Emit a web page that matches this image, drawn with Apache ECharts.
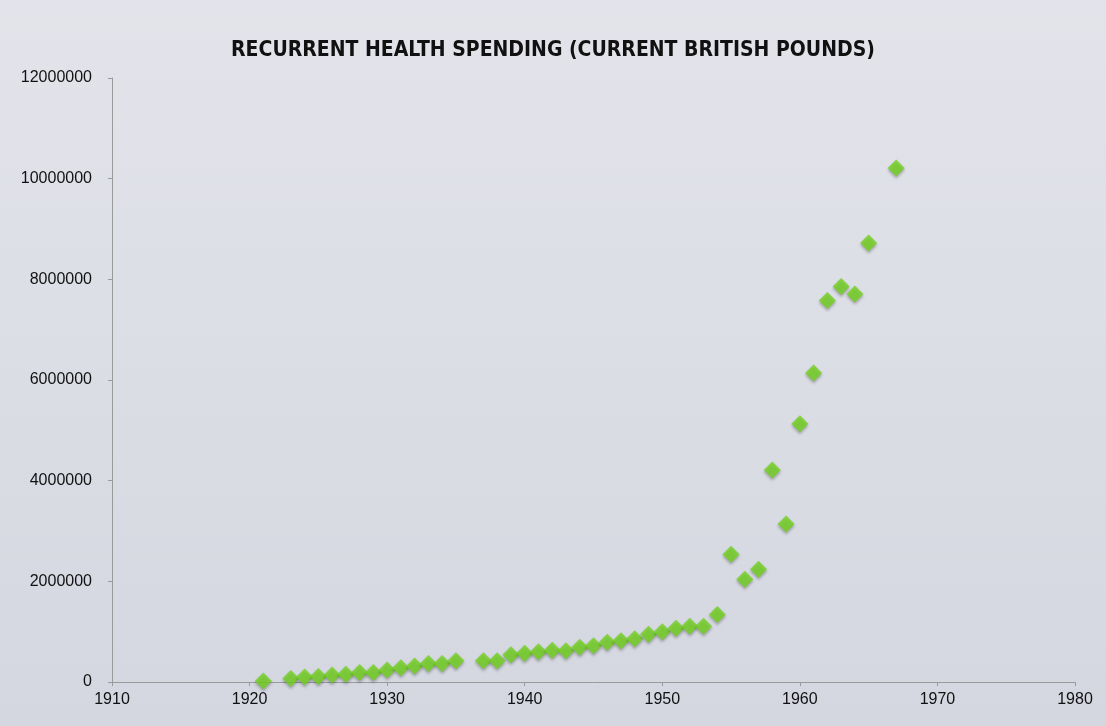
<!DOCTYPE html>
<html style="height: 100%">
<head>
  <meta charset="utf-8">
  <script src="https://cdn.jsdelivr.net/npm/echarts@6/dist/echarts.min.js"></script>
</head>
<body style="height: 100%; margin: 0; overflow: hidden;">
  <div id="container" style="width: 1106px; height: 726px;"></div>
  <script>
    // years with data (1922 and 1936 missing in the source)
    var years = [1921, 1923, 1924, 1925, 1926, 1927, 1928, 1929, 1930, 1931,
                 1932, 1933, 1934, 1935, 1937, 1938, 1939, 1940, 1941, 1942,
                 1943, 1944, 1945, 1946, 1947, 1948, 1949, 1950, 1951, 1952,
                 1953, 1954, 1955, 1956, 1957, 1958, 1959, 1960, 1961, 1962,
                 1963, 1964, 1965, 1967];
    var spending = [20000, 70000, 100000, 110000, 140000, 155000, 190000, 190000, 240000, 285000,
                    320000, 370000, 370000, 420000, 420000, 420000, 540000, 570000, 600000, 630000,
                    620000, 690000, 720000, 790000, 820000, 860000, 950000, 1000000, 1070000, 1110000,
                    1110000, 1340000, 2540000, 2040000, 2240000, 4210000, 3140000, 5130000, 6140000, 7580000,
                    7860000, 7710000, 8720000, 10210000];
    var chartTitle = 'RECURRENT HEALTH SPENDING (CURRENT BRITISH POUNDS)';

    var points = years.map(function (y, i) { return [y, spending[i]]; });

    var myChart = echarts.init(document.getElementById('container'));
    myChart.setOption({
      backgroundColor: {
        type: 'linear', x: 0, y: 0, x2: 0, y2: 1,
        colorStops: [
          { offset: 0, color: '#e3e4ea' },
          { offset: 1, color: '#d4d7e0' }
        ]
      },
      animation: false,
      title: {
        text: chartTitle,
        left: 'center',
        top: 35,
        textStyle: {
          fontFamily: '"DejaVu Sans Condensed", sans-serif',
          fontWeight: 'bold',
          fontSize: 21,
          color: '#111'
        }
      },
      grid: { left: 112, right: 31, top: 78, bottom: 44 },
      xAxis: {
        type: 'value',
        min: 1910,
        max: 1980,
        interval: 10,
        splitLine: { show: false },
        axisLine: { lineStyle: { color: '#9a9a9a', width: 1 } },
        axisTick: { length: 4, lineStyle: { color: '#9a9a9a' } },
        axisLabel: {
          color: '#111',
          fontSize: 16,
          fontFamily: '"Liberation Sans", sans-serif',
          margin: 10,
          formatter: function (v) { return String(v); }
        }
      },
      yAxis: {
        type: 'value',
        min: 0,
        max: 12000000,
        interval: 2000000,
        splitLine: { show: false },
        axisLine: { show: true, lineStyle: { color: '#9a9a9a', width: 1 } },
        axisTick: { show: true, length: 4, lineStyle: { color: '#9a9a9a' } },
        axisLabel: {
          color: '#111',
          fontSize: 16,
          fontFamily: '"Liberation Sans", sans-serif',
          margin: 20,
          formatter: function (v) { return String(v); }
        }
      },
      series: [{
        type: 'scatter',
        symbol: 'diamond',
        symbolSize: 17,
        data: points,
        itemStyle: {
          color: '#72d21e',
          shadowColor: 'rgba(0,0,0,0.35)',
          shadowBlur: 3,
          shadowOffsetY: 2
        }
      }]
    });
  </script>
</body>
</html>
